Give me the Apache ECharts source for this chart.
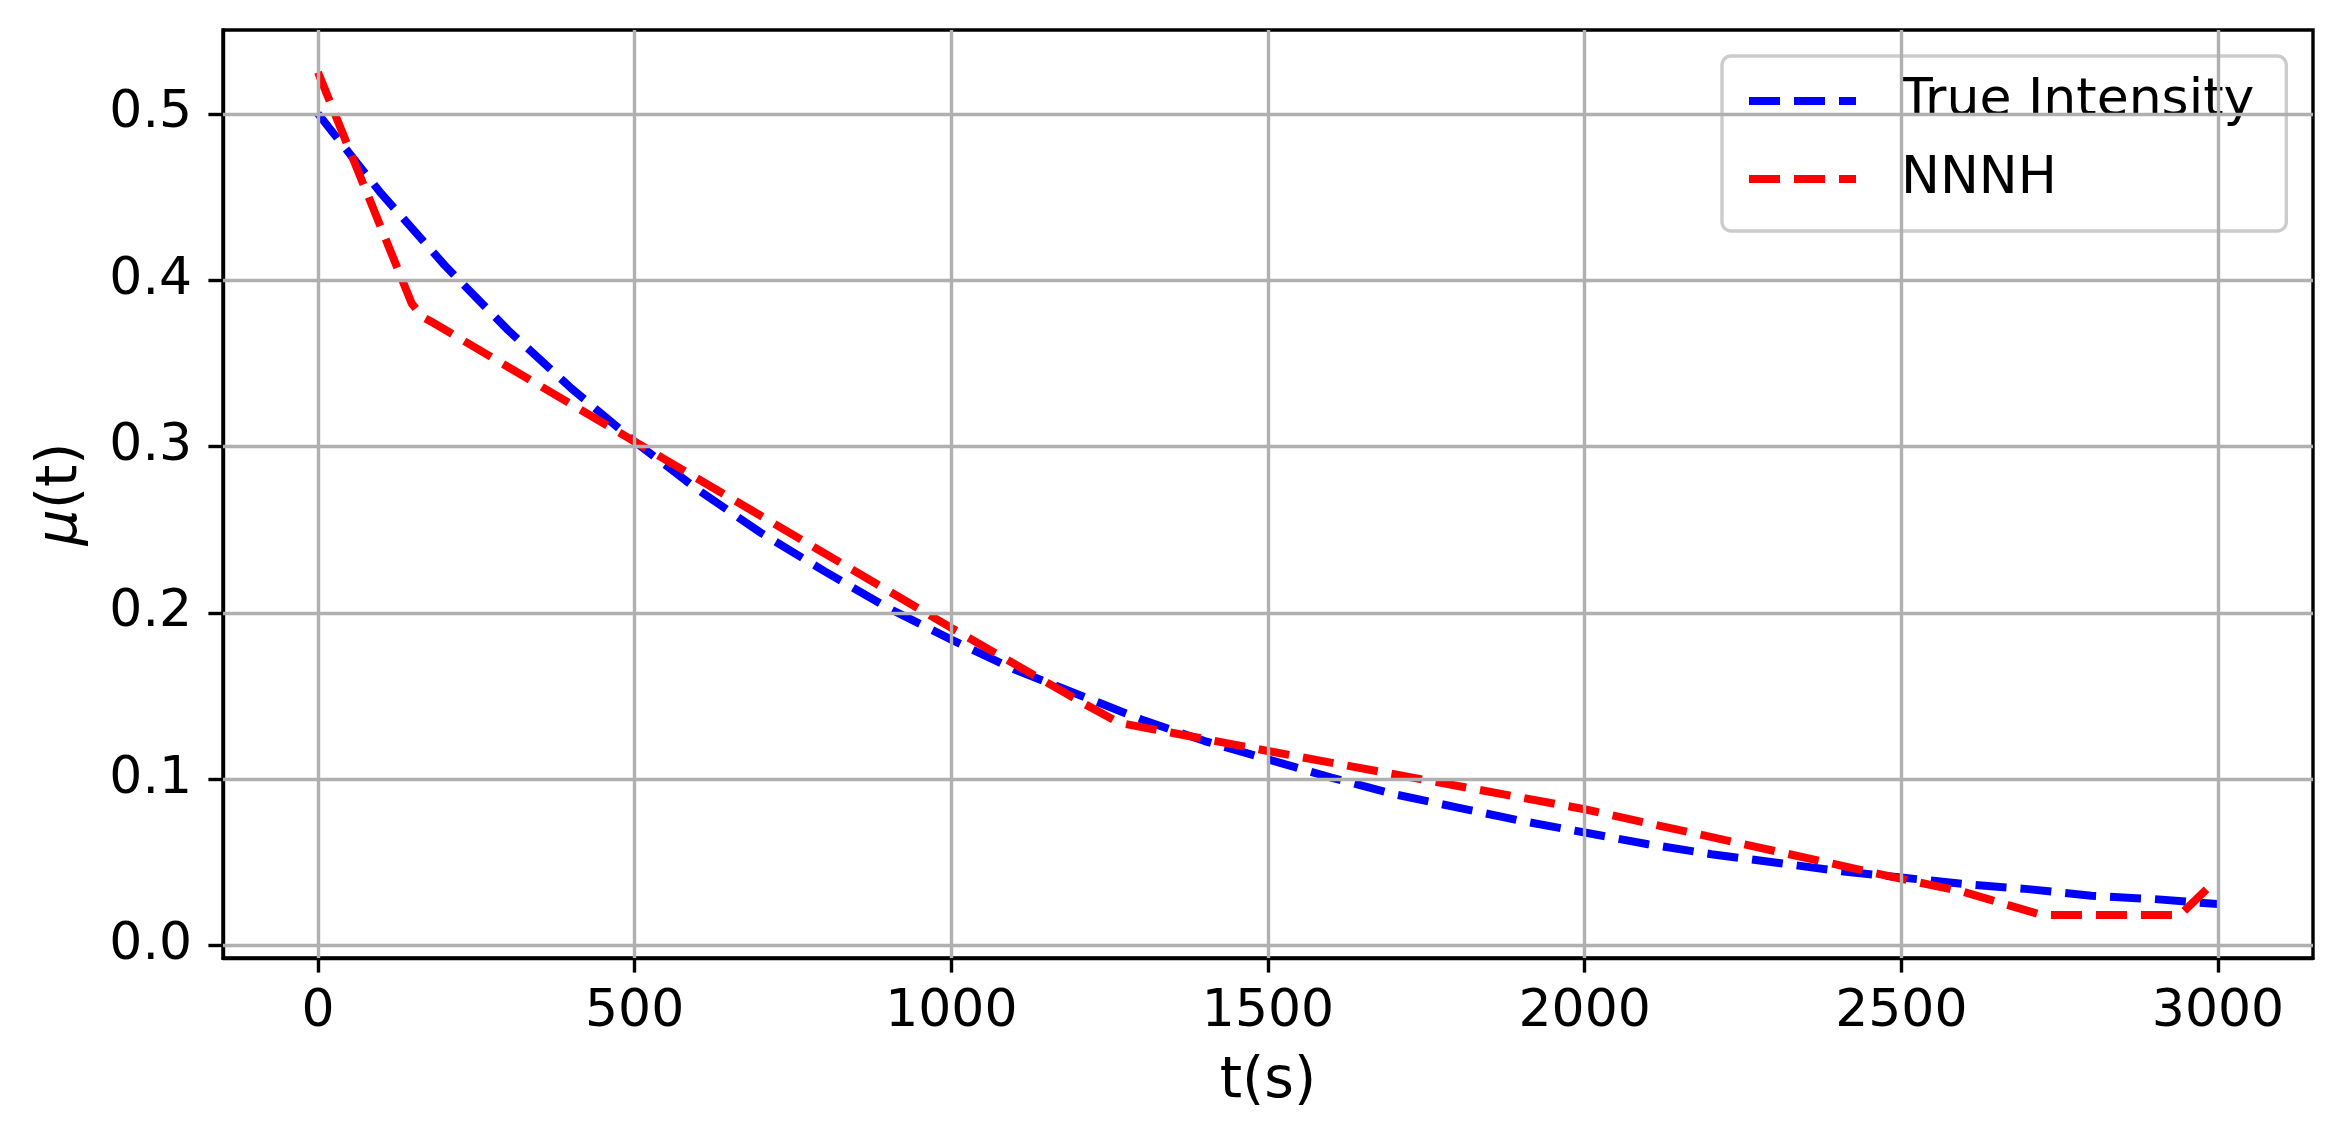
<!DOCTYPE html>
<html>
<head>
<meta charset="utf-8">
<script src="https://cdn.jsdelivr.net/npm/echarts@6/dist/echarts.min.js"></script>
<style>
html,body{margin:0;padding:0;background:#fff;}
#chart{width:2343px;height:1143px;}
</style>
</head>
<body>
<div id="chart"></div>
<script>
// ---- data ----
const xTicks = [0, 500, 1000, 1500, 2000, 2500, 3000];
const yTicks = [0, 0.1, 0.2, 0.3, 0.4, 0.5];

const tTrue  = [0, 100, 200, 300, 400, 500, 600, 700, 800, 900, 1000, 1100, 1200, 1300, 1400, 1500,
                1600, 1700, 1800, 1900, 2000, 2100, 2200, 2300, 2400, 2500, 2600, 2700, 2800, 2900, 3000];
const muTrue = [0.500, 0.452, 0.409, 0.370, 0.335, 0.303, 0.274, 0.248, 0.225, 0.203, 0.184, 0.166, 0.151, 0.136, 0.123, 0.112,
                0.101, 0.091, 0.083, 0.075, 0.068, 0.061, 0.055, 0.050, 0.045, 0.041, 0.037, 0.034, 0.030, 0.028, 0.025];

const tNNNH  = [0, 148, 165, 182, 500, 1000, 1207, 1265, 1313, 1500, 2000, 2500, 2523, 2598, 2722, 2940, 2993];
const muNNNH = [0.525, 0.386, 0.378, 0.3744, 0.303, 0.191, 0.146, 0.134, 0.1305, 0.117, 0.082, 0.0402, 0.0384, 0.0324, 0.0184, 0.0184, 0.038];

const seriesNames = ['True Intensity', 'NNNH'];

// ---- chart ----
const FONT = 'DejaVu Sans';
const chart = echarts.init(document.getElementById('chart'), null, {renderer: 'canvas'});

const gridLineData = xTicks.map(v => ({xAxis: v})).concat(yTicks.map(v => ({yAxis: v})));

const option = {
  animation: false,
  backgroundColor: '#ffffff',
  textStyle: {fontFamily: FONT, color: '#000'},
  grid: {
    left: 223, top: 30, right: 30, bottom: 185,
    containLabel: false, outerBoundsMode: 'none',
    show: true, borderColor: '#000', borderWidth: 3.4, backgroundColor: 'transparent'
  },
  legend: {
    data: seriesNames,
    orient: 'vertical',
    left: 1722, top: 56,
    itemWidth: 107, itemHeight: 20, itemGap: 2,
    padding: [7, 32, 14, 23],
    backgroundColor: 'rgba(255,255,255,0.8)',
    borderColor: '#cccccc', borderWidth: 3.4, borderRadius: 9,
    itemStyle: {color: 'rgba(0,0,0,0)', borderWidth: 0, opacity: 0},
    lineStyle: {width: 8, type: [31, 14], cap: 'butt'},
    textStyle: {fontFamily: FONT, fontSize: 52, color: '#000', lineHeight: 58, padding: [18, 0, 0, 40]},
    selectedMode: false
  },
  xAxis: {
    type: 'value',
    min: -150, max: 3150,
    name: 't(s)', nameLocation: 'middle', nameGap: 96,
    nameTextStyle: {fontFamily: FONT, fontSize: 57, color: '#000'},
    axisLine: {show: true, onZero: false, lineStyle: {color: '#000', width: 3.4}},
    axisTick: {show: true, inside: false, length: 14.6, lineStyle: {color: '#000', width: 3.4}, customValues: xTicks},
    axisLabel: {show: true, margin: 28, fontFamily: FONT, fontSize: 52, color: '#000', customValues: xTicks,
                formatter: v => String(Math.round(v))},
    splitLine: {show: false}
  },
  yAxis: {
    type: 'value',
    min: -0.0074, max: 0.5504,
    name: '{m|μ}(t)', nameLocation: 'middle', nameGap: 133,
    nameTextStyle: {fontFamily: FONT, fontSize: 57, color: '#000',
                    rich: {m: {fontFamily: FONT, fontSize: 57, fontStyle: 'italic', color: '#000'}}},
    axisLine: {show: true, onZero: false, lineStyle: {color: '#000', width: 3.4}},
    axisTick: {show: true, inside: false, length: 14.6, lineStyle: {color: '#000', width: 3.4}, customValues: yTicks},
    axisLabel: {show: true, margin: 31, fontFamily: FONT, fontSize: 52, color: '#000', customValues: yTicks,
                formatter: v => v.toFixed(1)},
    splitLine: {show: false}
  },
  series: [
    {
      name: '__grid', type: 'line', data: [], z: 1, silent: true,
      markLine: {
        silent: true, animation: false, symbol: ['none', 'none'],
        label: {show: false},
        lineStyle: {color: '#b0b0b0', width: 3.4, type: 'solid'},
        emphasis: {disabled: true},
        data: gridLineData
      }
    },
    {
      name: seriesNames[0], type: 'line', z: 3,
      data: tTrue.map((t, i) => [t, muTrue[i]]),
      showSymbol: false, symbol: 'none', smooth: false,
      color: '#0000ff',
      lineStyle: {color: '#0000ff', width: 8, type: [31, 14], cap: 'butt'}
    },
    {
      name: seriesNames[1], type: 'line', z: 4,
      data: tNNNH.map((t, i) => [t, muNNNH[i]]),
      showSymbol: false, symbol: 'none', smooth: false,
      color: '#ff0000',
      lineStyle: {color: '#ff0000', width: 8, type: [31, 14], cap: 'butt'}
    }
  ]
};
chart.setOption(option);
</script>
</body>
</html>
